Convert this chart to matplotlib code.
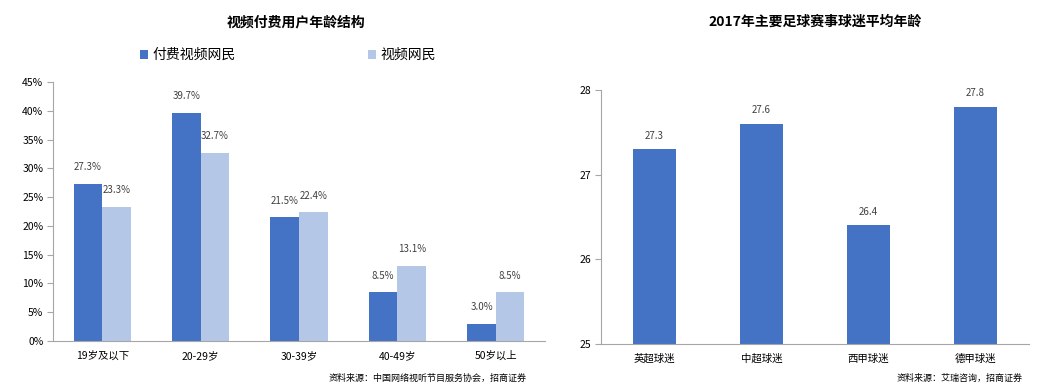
import matplotlib.pyplot as plt
import numpy as np

plt.rcParams['font.family'] = ['Noto Sans CJK SC', 'DejaVu Sans']

# 左图：视频付费用户年龄结构
nianling = ["19岁及以下", "20-29岁", "30-39岁", "40-49岁", "50岁以上"]
fufei = [27.3, 39.7, 21.5, 8.5, 3.0]
shipin = [23.3, 32.7, 22.4, 13.1, 8.5]

# 右图：2017年主要足球赛事球迷平均年龄
saishi = ["英超球迷", "中超球迷", "西甲球迷", "德甲球迷"]
pingjun = [27.3, 27.6, 26.4, 27.8]

shen = "#4472C4"
qian = "#B4C7E7"
hui = "#A6A6A6"
W, H = 1048, 392

fig = plt.figure(figsize=(W/100, H/100), dpi=100)

def tyyli(ax):
    for s in ("top", "right"):
        ax.spines[s].set_visible(False)
    for s in ("left", "bottom"):
        ax.spines[s].set_color(hui)
        ax.spines[s].set_linewidth(0.8)
    ax.tick_params(axis="y", length=4, color=hui, labelsize=7.5, pad=3)
    ax.tick_params(axis="x", length=0, labelsize=7.5, pad=7)

ax1 = fig.add_axes([53/W, 1-341/H, 492/W, 259/H])
x = np.arange(len(nianling))
lev = 0.29
b1 = ax1.bar(x-lev/2, fufei, lev, color=shen, label="付费视频网民")
b2 = ax1.bar(x+lev/2, shipin, lev, color=qian, label="视频网民")
for i in range(len(x)):
    ax1.text(x[i]-lev/2, fufei[i]+2.0, "%.1f%%" % fufei[i], ha="center", va="bottom", fontsize=7, color="#404040")
    ax1.text(x[i]+lev/2, shipin[i]+2.0, "%.1f%%" % shipin[i], ha="center", va="bottom", fontsize=7, color="#404040")
ax1.set_xlim(-0.5, 4.5)
ax1.set_ylim(0, 45)
ax1.set_yticks(np.arange(0, 46, 5))
ax1.set_yticklabels(["%d%%" % v for v in range(0, 46, 5)])
ax1.set_xticks(x)
ax1.set_xticklabels(nianling)
tyyli(ax1)
fig.text(296/W, 1-22/H, "视频付费用户年龄结构", ha="center", va="center", fontsize=10, fontweight="bold")
fig.legend(handles=[b1, b2], loc="center", bbox_to_anchor=(288/W, 1-55/H), ncol=2, frameon=False,
           fontsize=10, handlelength=0.6, handleheight=0.6, columnspacing=9.5, handletextpad=0.3)
fig.text(527/W, 1-378/H, "资料来源：中国网络视听节目服务协会，招商证券", ha="right", va="center", fontsize=6.5)

ax2 = fig.add_axes([601/W, 1-344/H, 428/W, 254/H])
x2 = np.arange(len(saishi))
ax2.bar(x2, pingjun, 0.4, color=shen)
for i in range(len(x2)):
    ax2.text(x2[i], pingjun[i]+0.1, "%.1f" % pingjun[i], ha="center", va="bottom", fontsize=7, color="#404040")
ax2.set_xlim(-0.5, 3.5)
ax2.set_ylim(25, 28)
ax2.set_yticks([25, 26, 27, 28])
ax2.set_xticks(x2)
ax2.set_xticklabels(saishi)
tyyli(ax2)
fig.text(815/W, 1-22/H, "2017年主要足球赛事球迷平均年龄", ha="center", va="center", fontsize=10, fontweight="bold")
fig.text(1023/W, 1-378/H, "资料来源：艾瑞咨询，招商证券", ha="right", va="center", fontsize=6.5)

plt.savefig("out.png", dpi=100)
